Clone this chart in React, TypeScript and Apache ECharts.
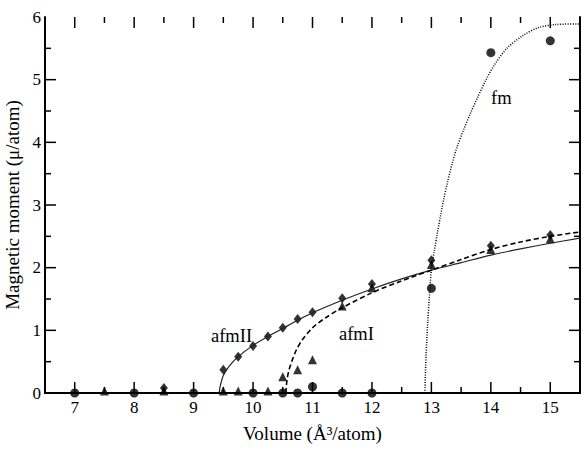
import React, { useEffect, useRef } from "react";
import * as echarts from "echarts";

// Axis ranges and ticks
const xRange = [6.5, 15.5];
const xTickRange = [7, 15];
const yRange = [0, 6];
const tickStep = 1;
const xMajorTicks = [7, 8, 9, 10, 11, 12, 13, 14, 15];
const xMinorTicks = [7.5, 8.5, 9.5, 10.5, 11.5, 12.5, 13.5, 14.5];
const yMajorTicks = [1, 2, 3, 4, 5];
const yMinorTicks = [0.5, 1.5, 2.5, 3.5, 4.5, 5.5];

// Calculated points
const fmPoints = [
  [7, 0], [8, 0], [9, 0], [10, 0], [10.5, 0], [10.75, 0], [11, 0.1],
  [11.5, 0], [12, 0], [13, 1.67], [14, 5.43], [15, 5.62],
];
const afmIPoints = [
  [7.5, 0.03], [8.5, 0.03], [9.5, 0.03], [9.75, 0.03], [10.25, 0.03],
  [10.5, 0.26], [10.75, 0.37], [11, 0.53], [11.5, 1.39], [12, 1.68],
  [13, 2.05], [14, 2.29], [15, 2.46],
];
const afmIIPoints = [
  [8.5, 0.08], [9.5, 0.37], [9.75, 0.58], [10, 0.75], [10.25, 0.9],
  [10.5, 1.04], [10.75, 1.18], [11, 1.29], [11.5, 1.51], [12, 1.74],
  [13, 2.12], [14, 2.35], [15, 2.52],
];

// Fitted curves
const afmIIFit = [
  [9.43, 0], [9.45, 0.12], [9.5, 0.28], [9.6, 0.43], [9.75, 0.58], [10, 0.76],
  [10.25, 0.9], [10.5, 1.03], [10.75, 1.16], [11, 1.28], [11.5, 1.48],
  [12, 1.66], [12.5, 1.82], [13, 1.96], [13.5, 2.08], [14, 2.2],
  [14.5, 2.3], [15, 2.39], [15.5, 2.47],
];
const afmIFit = [
  [10.55, 0], [10.57, 0.2], [10.6, 0.35], [10.65, 0.5], [10.72, 0.67],
  [10.83, 0.85], [11, 1.04], [11.22, 1.2], [11.5, 1.36], [12, 1.6],
  [12.5, 1.79], [13, 1.96], [13.5, 2.13], [14, 2.29], [14.5, 2.41],
  [15, 2.5], [15.5, 2.57],
];
const fmFit = [
  [12.89, 0], [12.91, 0.6], [12.94, 1.15], [12.97, 1.6], [13.0, 1.97],
  [13.05, 2.27], [13.1, 2.55], [13.16, 2.86], [13.21, 3.1], [13.27, 3.36],
  [13.35, 3.66], [13.43, 3.92], [13.55, 4.22], [13.66, 4.47], [13.77, 4.7],
  [13.91, 4.98], [14.05, 5.22], [14.27, 5.5], [14.55, 5.71], [14.8, 5.83],
  [15.1, 5.88], [15.5, 5.89],
];

const FONT = "'Liberation Serif', 'DejaVu Serif', serif";

export default function App() {
  const ref = useRef<HTMLDivElement>(null);
  useEffect(() => {
    document.body.style.margin = "0";
    const chart = echarts.init(ref.current!, null, { renderer: "svg" });

    const W = 581;
    const left = 45;
    const right = 1;
    const top = 17;
    const bottom = 60;
    const MAJ = 11;
    const MIN = 6;
    const unit = (W - left - right) / (xRange[1] - xRange[0]);
    const shiftL = left + (xTickRange[0] - xRange[0]) * unit;
    const shiftR = right + (xRange[1] - xTickRange[1]) * unit;

    const line = () => ({ show: true, lineStyle: { color: "#000", width: 2 } });
    const off = () => ({ show: false });
    const none = "none";
    const tickStyle = { stroke: "#000", lineWidth: 1.5 };

    const xTickSeries = (vals: number[], len: number) => ({
      type: "custom",
      silent: true,
      clip: false,
      z: 1,
      data: vals.map((v) => [v, yRange[0]]),
      encode: { x: 0, y: 1 },
      renderItem: (_p: any, api: any) => {
        const v = api.value(0);
        const b = api.coord([v, yRange[0]]);
        const t = api.coord([v, yRange[1]]);
        return {
          type: "group",
          children: [
            { type: "line", shape: { x1: b[0], y1: b[1], x2: b[0], y2: b[1] - len }, style: tickStyle },
            { type: "line", shape: { x1: t[0], y1: t[1], x2: t[0], y2: t[1] + len }, style: tickStyle },
          ],
        };
      },
    });
    const yTickSeries = (vals: number[], len: number) => ({
      type: "custom",
      silent: true,
      clip: false,
      z: 1,
      data: vals.map((v) => [xRange[0], v]),
      encode: { x: 0, y: 1 },
      renderItem: (_p: any, api: any) => {
        const v = api.value(1);
        const l = api.coord([xRange[0], v]);
        const r = api.coord([xRange[1], v]);
        return {
          type: "group",
          children: [
            { type: "line", shape: { x1: l[0], y1: l[1], x2: l[0] + len, y2: l[1] }, style: tickStyle },
            { type: "line", shape: { x1: r[0], y1: r[1], x2: r[0] - len, y2: r[1] }, style: tickStyle },
          ],
        };
      },
    });

    chart.setOption({
      animation: false,
      backgroundColor: "#fff",
      textStyle: { fontFamily: FONT },
      grid: [
        { left, right, top, bottom, outerBoundsMode: none },
        { left: shiftL, right: shiftR, top, bottom, outerBoundsMode: none },
      ],
      xAxis: [
        {
          type: "value", gridIndex: 0, position: "bottom", min: xRange[0], max: xRange[1],
          axisLine: line(), axisTick: off(), axisLabel: off(), splitLine: off(),
        },
        {
          type: "value", gridIndex: 0, position: "top", min: xRange[0], max: xRange[1],
          axisLine: line(), axisTick: off(), axisLabel: off(), splitLine: off(),
        },
        {
          type: "value", gridIndex: 1, position: "bottom", min: xTickRange[0], max: xTickRange[1],
          interval: tickStep,
          axisLine: off(), axisTick: off(), splitLine: off(),
          axisLabel: { show: true, fontSize: 17, color: "#000", fontFamily: FONT, margin: 6 },
          name: "Volume (Å³/atom)",
          nameLocation: "middle",
          nameGap: 31,
          nameTextStyle: { fontSize: 19, color: "#000", fontFamily: FONT },
        },
      ],
      yAxis: [
        {
          type: "value", gridIndex: 0, position: "left", min: yRange[0], max: yRange[1],
          interval: tickStep,
          axisLine: line(), axisTick: off(), splitLine: off(),
          axisLabel: { show: true, fontSize: 17, color: "#000", fontFamily: FONT, margin: 4 },
          name: "Magnetic moment (μ/atom)",
          nameLocation: "middle",
          nameGap: 16,
          nameTextStyle: { fontSize: 19, color: "#000", fontFamily: FONT },
        },
        {
          type: "value", gridIndex: 0, position: "right", min: yRange[0], max: yRange[1],
          axisLine: line(), axisTick: off(), splitLine: off(), axisLabel: off(),
        },
        { type: "value", gridIndex: 1, min: yRange[0], max: yRange[1], show: false },
      ],
      series: [
        xTickSeries(xMajorTicks, MAJ),
        xTickSeries(xMinorTicks, MIN),
        yTickSeries(yMajorTicks, MAJ),
        yTickSeries(yMinorTicks, MIN),
        {
          type: "line", name: "afmII fit", data: afmIIFit, showSymbol: false, smooth: 0.3,
          lineStyle: { color: "#222", width: 1.2 },
        },
        {
          type: "line", name: "afmI fit", data: afmIFit, showSymbol: false, smooth: 0.3,
          lineStyle: { color: "#000", width: 1.6, type: [5, 3] },
        },
        {
          type: "line", name: "fm fit", data: fmFit, showSymbol: false, smooth: 0.3,
          lineStyle: { color: "#000", width: 1.5, type: [1, 1.5] },
        },
        {
          type: "scatter", name: "afmI", data: afmIPoints, symbol: "triangle",
          symbolSize: [9, 9], itemStyle: { color: "#000" },
        },
        {
          type: "scatter", name: "afmII", data: afmIIPoints, symbol: "diamond",
          symbolSize: [8, 10], itemStyle: { color: "#000" },
        },
        {
          type: "scatter", name: "fm", data: fmPoints, symbol: "circle",
          symbolSize: 9, itemStyle: { color: "#000" },
        },
      ],
      graphic: [
        { type: "text", left: 211, top: 326, style: { text: "afmII", fontSize: 18.5, fontFamily: FONT, fill: "#000" } },
        { type: "text", left: 339, top: 324, style: { text: "afmI", fontSize: 18.5, fontFamily: FONT, fill: "#000" } },
        { type: "text", left: 491, top: 88, style: { text: "fm", fontSize: 18.5, fontFamily: FONT, fill: "#000" } },
      ],
    });
    return () => chart.dispose();
  }, []);
  return <div ref={ref} style={{ width: 581, height: 453 }} />;
}
